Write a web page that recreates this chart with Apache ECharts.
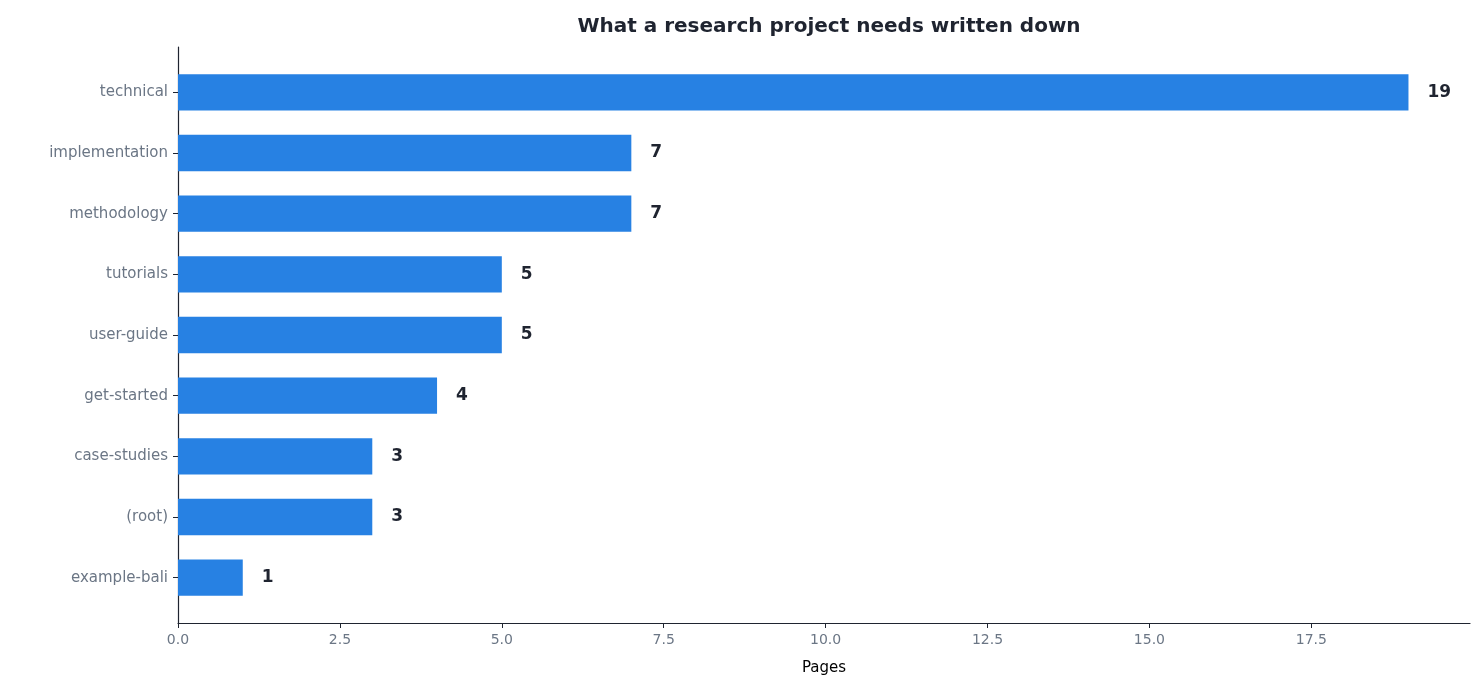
<!DOCTYPE html>
<html>
<head>
<meta charset="utf-8">
<script src="https://cdn.jsdelivr.net/npm/echarts@6/dist/echarts.min.js"></script>
<style>html,body{margin:0;padding:0;background:#fff}#chart{width:1484px;height:700px}</style>
</head>
<body>
<div id="chart"></div>
<script>
const categories = ['technical', 'implementation', 'methodology', 'tutorials', 'user-guide', 'get-started', 'case-studies', '(root)', 'example-bali'];
const pages = [19, 7, 7, 5, 5, 4, 3, 3, 1];
const xTicks = { min: 0, max: 19.95, interval: 2.5 };

const font = 'DejaVu Sans';
const chart = echarts.init(document.getElementById('chart'), null, { renderer: 'canvas' });
chart.setOption({
  animation: false,
  title: {
    text: 'What a research project needs written down',
    left: 824, top: 12, textAlign: 'center',
    textStyle: { fontFamily: font, fontSize: 20, fontWeight: 'bold', color: '#1f2430' }
  },
  grid: [
    { left: 178, right: 14, top: 62, bottom: 92 },
    { left: 178, right: 14, top: 47, bottom: 77 }
  ],
  xAxis: [
    {
      type: 'value', gridIndex: 0, min: xTicks.min, max: xTicks.max, interval: xTicks.interval,
      offset: 15,
      name: 'Pages', nameLocation: 'middle', nameGap: 38,
      nameTextStyle: { fontFamily: font, fontSize: 15, color: '#000' },
      axisLine: { show: true, lineStyle: { color: '#1f2430', width: 1.2 } },
      axisTick: { show: true, length: 5, lineStyle: { color: '#1f2430' } },
      axisLabel: { showMaxLabel: false, fontFamily: font, fontSize: 14, color: '#6b7685', margin: 10,
        formatter: v => v.toFixed(1) },
      splitLine: { show: false }
    },
    { type: 'value', gridIndex: 1, show: false }
  ],
  yAxis: [
    {
      type: 'category', gridIndex: 0, data: categories, inverse: true,
      axisLine: { show: false },
      axisTick: { show: true, alignWithLabel: true, length: 5, lineStyle: { color: '#1f2430' } },
      axisLabel: { fontFamily: font, fontSize: 15, color: '#6b7685', margin: 10 }
    },
    {
      type: 'value', gridIndex: 1,
      axisLine: { show: true, lineStyle: { color: '#1f2430', width: 1.2 } },
      axisTick: { show: false }, axisLabel: { show: false }, splitLine: { show: false }
    }
  ],
  series: [{
    type: 'bar', xAxisIndex: 0, yAxisIndex: 0,
    data: pages, barWidth: '60%',
    itemStyle: { color: '#2781e3' },
    label: { show: true, position: 'right', distance: 19, fontFamily: font, fontSize: 17, fontWeight: 'bold', color: '#1f2430' }
  }]
});
</script>
</body>
</html>
